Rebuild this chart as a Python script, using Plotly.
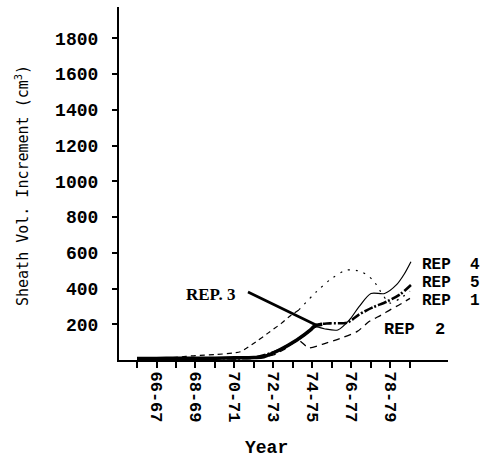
import plotly.graph_objects as go

# Crop years (start year of each season) and their axis labels
year_starts = list(range(65, 80))
labelled_years = [y for y in year_starts if y % 2 == 0]
unlabelled_years = [y for y in year_starts if y % 2 == 1]
year_labels = [f"<b>{y}-{y + 1}</b>" for y in labelled_years]

y_ticks = [200, 400, 600, 800, 1000, 1200, 1400, 1600, 1800]
y_tick_labels = [f"<b>{v}</b>" for v in y_ticks]

# Sheath volume increment (cm^3) per replicate
rep1_x = [65, 66, 67, 68, 69, 70, 70.3, 71.1, 71.7, 72.4, 72.8, 73.3,
          74.2, 75.0, 75.75, 76.5, 77.1, 77.5, 77.8, 78.0, 78.5, 79.0]
rep1_y = [0, 5, 15, 25, 30, 40, 46, 102, 149, 205, 242, 280,
          382, 457, 503, 494, 447, 382, 335, 318, 345, 385]
rep1_split = 11  # dashed through 73.3, sparser dots afterwards

rep2_x = [65, 67, 69, 71, 72, 72.5, 73.0, 73.3, 73.8, 74.5, 75.4, 76.3,
          76.9, 77.5, 78.0, 78.5, 79.0]
rep2_y = [6, 8, 10, 14, 28, 56, 95, 110, 68, 88, 120, 160,
          215, 250, 282, 312, 345]

rep3_x = [65, 66, 67, 68, 69, 70, 71, 71.5, 72.3, 73.2, 73.9, 74.1, 74.5]
rep3_y = [8, 8, 10, 10, 10, 12, 14, 18, 56, 112, 168, 190, 200]

rep4_x = [65, 67, 69, 71, 72.3, 73.2, 73.9, 74.2, 74.6, 75.3, 75.9, 76.4,
          77.0, 77.7, 78.3, 78.7, 79.05]
rep4_y = [8, 10, 10, 14, 56, 112, 168, 185, 175, 168, 225, 300,
          372, 372, 420, 480, 550]

rep5_x = [65, 67, 69, 71, 72.3, 73.2, 73.9, 74.2, 74.9, 75.8, 76.4, 77.1,
          77.8, 78.5, 79.05]
rep5_y = [8, 10, 10, 14, 56, 112, 168, 196, 205, 210, 255, 295,
          326, 368, 420]

# Pointer target for the REP 3 label
rep3_point = (74.18, 196)

MONO = "Liberation Mono"
INK = "black"

fig = go.Figure()

def add_line(x, y, width, dash, smoothing=0.8):
    fig.add_trace(go.Scatter(
        x=x, y=y, mode="lines",
        line=dict(color=INK, width=width, dash=dash, shape="spline", smoothing=smoothing),
        hoverinfo="skip", showlegend=False,
    ))

add_line(rep2_x, rep2_y, 1.3, "7px,5px", 0.6)
add_line(rep1_x[:rep1_split + 1], rep1_y[:rep1_split + 1], 1.2, "5px,4px")
add_line(rep1_x[rep1_split:], rep1_y[rep1_split:], 1.2, "2px,6px")
add_line(rep4_x, rep4_y, 1.2, "solid")
add_line(rep5_x, rep5_y, 2.6, "9px,2px,2px,2px")
add_line(rep3_x, rep3_y, 3.6, "solid")

# Series labels at the right-hand ends
label_font = dict(family=MONO, size=16, color=INK)
for txt, yv in [("REP  4", 531), ("REP  5", 431), ("REP  1", 330)]:
    fig.add_annotation(x=1.0, xref="paper", y=yv, yref="y", text=f"<b>{txt}</b>",
                       showarrow=False, xanchor="left", yanchor="middle",
                       xshift=-28, font=label_font)
fig.add_annotation(x=77.56, y=168, text="<b>REP  2</b>", showarrow=False,
                   xanchor="left", yanchor="middle",
                   font=dict(family=MONO, size=17, color=INK))

# REP 3 label with its pointer line ending on the curve
fig.add_shape(type="line", xref="x", yref="y",
              xsizemode="pixel", ysizemode="pixel",
              xanchor=rep3_point[0], yanchor=rep3_point[1],
              x0=-68, y0=33, x1=0, y1=0,
              line=dict(color=INK, width=2.6))
fig.add_annotation(x=rep3_point[0], y=rep3_point[1], text="<b>REP. 3</b>",
                   showarrow=False, xshift=-105, yshift=30,
                   font=dict(family="Liberation Serif", size=17, color=INK))

# Axis titles
fig.add_annotation(x=(22 - 119) / 329, xref="paper", y=(360 - 186) / 353, yref="paper",
                   textangle=-90, xanchor="center", yanchor="middle",
                   text="Sheath Vol. Increment (cm<sup>3</sup>)", showarrow=False,
                   font=dict(family="DejaVu Sans Mono", size=15, color=INK))
fig.add_annotation(x=(266 - 119) / 329, xref="paper", y=-88 / 353, yref="paper",
                   text="<b>Year</b>", showarrow=False, yanchor="middle",
                   font=dict(family=MONO, size=18, color=INK))

fig.update_layout(
    width=480, height=458,
    margin=dict(l=119, r=32, t=7, b=98),
    paper_bgcolor="white", plot_bgcolor="white",
    showlegend=False,
    xaxis=dict(
        range=[64.077, 80.95], tickmode="array",
        tickvals=labelled_years, ticktext=year_labels, tickangle=90,
        ticks="outside", ticklen=6, tickwidth=1.5, tickcolor=INK,
        minor=dict(tickmode="array", tickvals=unlabelled_years, ticks="outside",
                   ticklen=6, tickwidth=1.5, tickcolor=INK, showgrid=False),
        showline=True, linewidth=2.2, linecolor=INK,
        showgrid=False, zeroline=False,
        tickfont=dict(family=MONO, size=17, color=INK),
    ),
    yaxis=dict(
        range=[0, 1975], tickmode="array", tickvals=y_ticks, ticktext=y_tick_labels,
        ticks="outside", ticklen=5, tickwidth=1.5, tickcolor=INK,
        ticklabelstandoff=10,
        showline=True, linewidth=2.2, linecolor=INK,
        showgrid=False, zeroline=False,
        tickfont=dict(family=MONO, size=18, color=INK),
    ),
)

fig.write_html("out.html")
